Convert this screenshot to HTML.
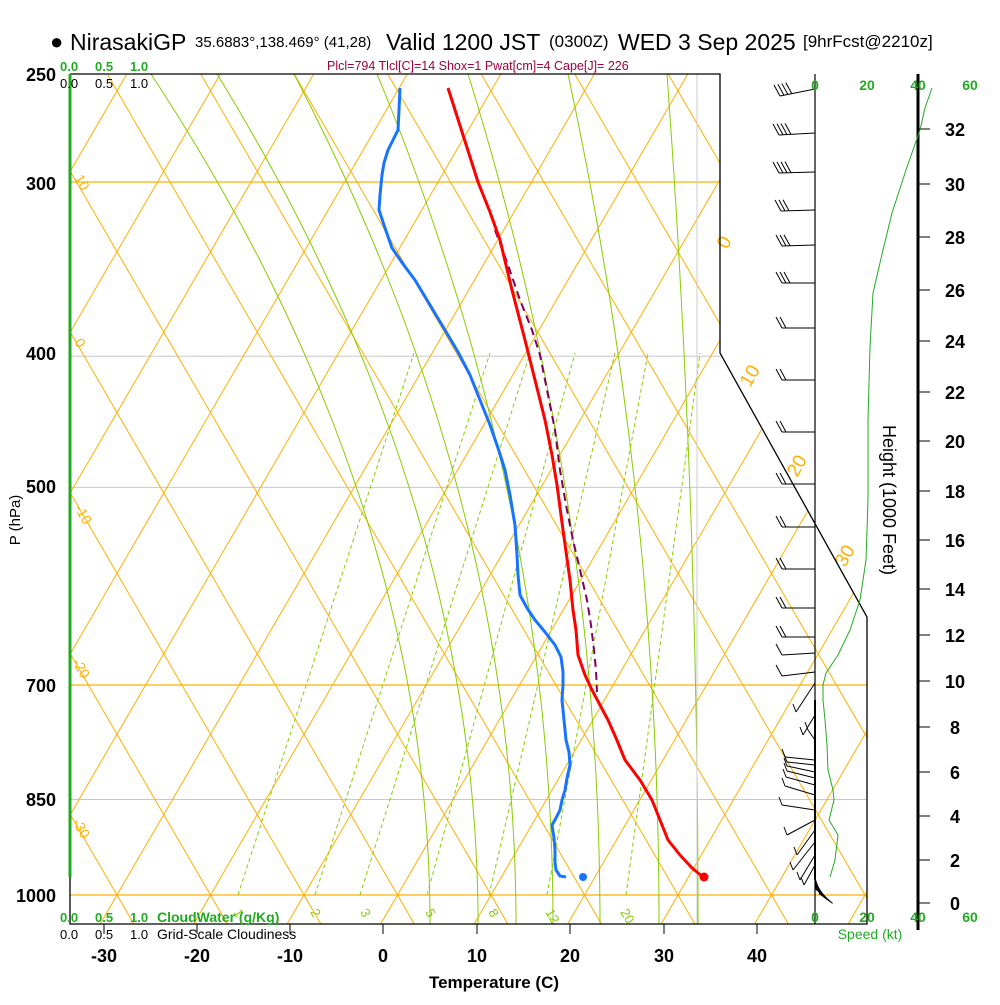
<!DOCTYPE html>
<html><head><meta charset="utf-8"><style>
body{margin:0;background:#fff;width:1000px;height:1000px;overflow:hidden}
svg{font-family:"Liberation Sans",sans-serif}
</style></head><body>
<svg id="s" width="1000" height="1000" viewBox="0 0 1000 1000" xmlns="http://www.w3.org/2000/svg">
<defs><clipPath id="cp"><polygon points="70,74 720,74 720,353 867,617 867,924 70,924"/></clipPath></defs>
<g id="grid" clip-path="url(#cp)"></g>
<g id="fg"></g>
<text x="50" y="49" font-size="22">●</text>
<text x="70" y="50" font-size="23">NirasakiGP</text>
<text x="195" y="47" font-size="15">35.6883°,138.469° (41,28)</text>
<text x="386" y="50" font-size="23">Valid 1200 JST</text>
<text x="549" y="47" font-size="17">(0300Z)</text>
<text x="618" y="50" font-size="23">WED 3 Sep 2025</text>
<text x="803" y="47" font-size="17">[9hrFcst@2210z]</text>
<text x="327" y="70" font-size="12.5" fill="#a0003c">Plcl=794 Tlcl[C]=14 Shox=1 Pwat[cm]=4 Cape[J]= 226</text>
<g font-size="13" font-weight="bold" fill="#22aa22"><text x="60" y="71">0.0</text><text x="95" y="71">0.5</text><text x="130" y="71">1.0</text>
<text x="60" y="922">0.0</text><text x="95" y="922">0.5</text><text x="130" y="922">1.0</text><text x="157" y="922" font-size="14">CloudWater (g/Kg)</text></g>
<g font-size="13" fill="#000"><text x="60" y="88">0.0</text><text x="95" y="88">0.5</text><text x="130" y="88">1.0</text>
<text x="60" y="939">0.0</text><text x="95" y="939">0.5</text><text x="130" y="939">1.0</text><text x="157" y="939" font-size="14">Grid-Scale Cloudiness</text></g>
<g font-size="18" font-weight="bold" text-anchor="end"><text x="56" y="81">250</text><text x="56" y="190">300</text><text x="56" y="360">400</text><text x="56" y="493">500</text><text x="56" y="692">700</text><text x="56" y="806">850</text><text x="56" y="902">1000</text></g>
<g font-size="18" font-weight="bold" text-anchor="middle"><text x="104" y="962">-30</text><text x="197" y="962">-20</text><text x="290" y="962">-10</text><text x="383" y="962">0</text><text x="477" y="962">10</text><text x="570" y="962">20</text><text x="664" y="962">30</text><text x="757" y="962">40</text></g>
<text x="494" y="988" font-size="17" font-weight="bold" text-anchor="middle">Temperature (C)</text>
<text transform="translate(20,520) rotate(-90)" font-size="15" text-anchor="middle">P (hPa)</text>
<text transform="translate(883,500) rotate(90)" font-size="18" text-anchor="middle">Height (1000 Feet)</text>
<g font-size="14" font-weight="bold" fill="#22aa22" text-anchor="middle"><text x="815" y="90">0</text><text x="867" y="90">20</text><text x="918" y="90">40</text><text x="970" y="90">60</text>
<text x="815" y="922">0</text><text x="867" y="922">20</text><text x="918" y="922">40</text><text x="970" y="922">60</text><text x="870" y="939" font-weight="normal">Speed (kt)</text></g>
</svg>
<script>
var g=document.getElementById('grid'),f=document.getElementById('fg'),NS='http://www.w3.org/2000/svg';
function el(p,t,a){var e=document.createElementNS(NS,t);for(var k in a)e.setAttribute(k,a[k]);p.appendChild(e);return e}
function Y(p){return 895-588*Math.log(1000/p)}
var OR='#ffb000';
[400,500,850].forEach(function(p){el(g,'line',{x1:70,x2:867,y1:Y(p),y2:Y(p),stroke:'#c8c8c8','stroke-width':1})});
el(g,'line',{x1:70,x2:720,y1:182,y2:182,stroke:OR,'stroke-width':1.2});
el(g,'line',{x1:70,x2:867,y1:685,y2:685,stroke:OR,'stroke-width':1.2});
el(g,'line',{x1:70,x2:867,y1:895,y2:895,stroke:OR,'stroke-width':1.2});
var s=1.72;
for(var k=-12;k<16;k++){var x0=117+93.5*k;
el(g,'line',{x1:x0+(895-1000)/s,y1:1000,x2:x0+(895-0)/s,y2:0,stroke:OR,'stroke-width':1});
el(g,'line',{x1:x0-(895-1000)/s,y1:1000,x2:x0-(895-0)/s,y2:0,stroke:OR,'stroke-width':1});}
[[430,151],[478,217],[516,294],[553,377],[600,468],[659,568],[698,667]].forEach(function(a){
var b=a[0],t=a[1],pts=[];for(var y=924;y>=74;y-=10){var fr=(924-y)/850;pts.push((b-(b-t)*Math.pow(fr,2.0)).toFixed(1)+','+y)}
el(g,'polyline',{points:pts.join(' '),fill:'none',stroke:'#88cc00','stroke-width':1})});
var mb=[238,315,360,427,489,547,626],mt=[414,490,530,575,615,648,700];
mb.forEach(function(b,i){el(g,'line',{x1:b,y1:895,x2:mt[i],y2:353,stroke:'#88cc00','stroke-width':1,'stroke-dasharray':'4,3'})});
['1','2','3','5','8','12','20'].forEach(function(t,i){var x=[233,310,360,425,488,545,620][i];var e=el(g,'text',{x:x,y:912,'font-size':13,fill:'#88cc00',transform:'rotate(60 '+x+' 912)'});e.textContent=t});
[[74,178,'10'],[74,342,'0'],[74,508,'-10'],[72,662,'-20'],[72,822,'-30']].forEach(function(a){var e=el(g,'text',{x:a[0],y:a[1],'font-size':14,fill:OR,transform:'rotate(60 '+a[0]+' '+a[1]+')'});e.textContent=a[2]});
el(g,'line',{x1:697,x2:697,y1:74,y2:924,stroke:'#ccc','stroke-width':1});
[[727,250,'0'],[750,388,'10'],[797,478,'20'],[845,568,'30']].forEach(function(a){var e=el(f,'text',{x:a[0],y:a[1],'font-size':19,fill:OR,transform:'rotate(-60 '+a[0]+' '+a[1]+')'});e.textContent=a[2]});
el(f,'polyline',{points:'70,74 720,74 720,353 867,617 867,924 70,924 70,74',fill:'none',stroke:'#000','stroke-width':1.3});
el(f,'line',{x1:70,y1:74,x2:70,y2:877,stroke:'#22aa22','stroke-width':3});
el(f,'line',{x1:815,y1:74,x2:815,y2:924,stroke:'#000','stroke-width':1.2});
el(f,'line',{x1:918,y1:74,x2:918,y2:930,stroke:'#000','stroke-width':3});
[903,860,816,772,727,681,635,589,540,491,441,392,341,290,237,184,129].forEach(function(y,i){el(f,'line',{x1:918,x2:930,y1:y,y2:y,stroke:'#000'});var e=el(f,'text',{x:955,y:y+7,'font-size':18,'font-weight':'bold','text-anchor':'middle'});e.textContent=(i*2)});
[104,197,290,383,477,570,664,757].forEach(function(x){el(f,'line',{x1:x,x2:x,y1:924,y2:934,stroke:'#000'})});
function pl(pts,c,w,d){el(f,'polyline',{points:pts,fill:'none',stroke:c,'stroke-width':w,'stroke-dasharray':d||'none','stroke-linejoin':'round'})}
pl('495,230 508,265 520,300 532,330 540,355 548,395 555,430 560,470 566,505 573,540 580,570 587,600 591,625 594,650 596,670 597,692','#800060',2,'8,5');
pl('448,88 463,135 478,182 490,212 500,240 512,290 525,340 535,380 545,420 552,455 557,485 563,530 570,580 573,610 576,630 578,655 585,675 592,690 600,705 608,720 616,738 625,760 640,780 652,800 660,820 668,840 680,855 692,868 703,877','#ff0000',3);
pl('400,88 399,110 398,130 393,140 388,150 384,163 382,175 380,195 379,210 385,228 392,248 403,264 415,280 430,305 445,330 458,352 470,375 480,400 490,425 498,448 505,470 510,495 515,525 516,540 517,555 518,575 520,595 527,608 535,620 545,632 555,645 561,657 563,672 563,685 562,700 564,720 566,740 569,752 570,765 567,778 565,790 562,800 560,810 556,818 552,825 554,838 555,850 555,862 556,870 560,876 566,877','#1874ff',3);
el(f,'circle',{cx:704,cy:877,r:4.5,fill:'#ff0000'});el(f,'circle',{cx:583,cy:877,r:4,fill:'#1874ff'});
pl('932,88 925,108 920,130 906,170 892,213 883,250 873,293 870,347 868,420 868,500 866,560 860,600 850,630 838,655 826,673 823,685 823,700 825,720 827,745 828,770 833,790 834,800 829,820 838,835 835,860 830,877','#22aa22',1);
function barb(y0,x1,y1,n){el(f,'line',{x1:815,y1:y0,x2:x1,y2:y1,stroke:'#000','stroke-width':1});
var L=Math.hypot(815-x1,y0-y1),ux=(815-x1)/L,uy=(y0-y1)/L;
for(var i=0;i<n;i++){var bx=x1+ux*i*4,by=y1+uy*i*4;el(f,'line',{x1:bx,y1:by,x2:bx-6,y2:by-11,stroke:'#000','stroke-width':1})}}
[[89,780,96,4],[133,779,135,4],[172,779,173,4],[210,781,211,3],[245,782,246,3],[283,782,283,3],[328,782,328,2],[380,782,380,2],[432,782,432,2],[484,782,484,2],[527,782,527,2],[569,782,569,2],[608,782,608,2],[637,782,637,2],[653,782,655,1],[672,782,676,1]].forEach(function(b){barb(b[0],b[1],b[2],b[3])});
[[683,796,712],[715,803,735],[740,808,730],[760,785,757],[765,787,762],[772,787,766],[778,787,771],[785,786,777],[795,785,786],[810,782,805],[820,787,835],[830,797,855],[842,793,870],[855,800,880],[865,804,885]].forEach(function(b){el(f,'line',{x1:815,y1:b[0],x2:b[1],y2:b[2],stroke:'#000','stroke-width':1});el(f,'line',{x1:b[1],y1:b[2],x2:b[1]-3,y2:b[2]-8,stroke:'#000','stroke-width':1})});
el(f,'line',{x1:815,y1:700,x2:815,y2:880,stroke:'#000','stroke-width':2});
for(var i=0;i<8;i++){el(f,'line',{x1:815,y1:878+i*1.5,x2:820+i*1.8,y2:895+i*1.2,stroke:'#000'})}
</script>
</body></html>
